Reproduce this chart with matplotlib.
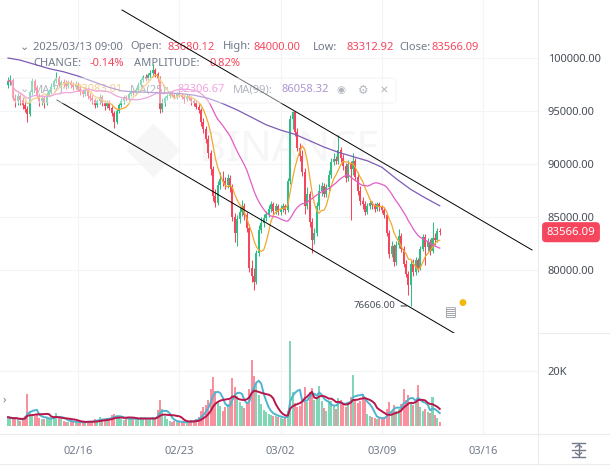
import numpy as np
import pandas as pd
import matplotlib
matplotlib.use('Agg')
import matplotlib.pyplot as plt
from matplotlib.patches import FancyBboxPatch
from matplotlib.lines import Line2D
from matplotlib import transforms

plt.rcParams['font.family'] = ['Noto Sans', 'DejaVu Sans']

# BTC/USDT 4h candles, 2025-02-11 04:00 .. 2025-03-13 00:00, prices in thousand USDT
first_open_k = 97.5
closes_k = [
    97.8, 97.9, 96.2, 95.9, 96.4,
    96.0, 95.6, 95.2, 94.7, 96.8, 97.8,
    97.2, 96.4, 95.9, 96.2, 95.8, 96.5,
    96.9, 97.3, 97.8, 98.1, 97.5, 97.7,
    97.6, 97.4, 97.7, 97.5, 97.3, 97.5,
    97.1, 96.8, 96.6, 97.0, 96.4, 96.2,
    96.0, 95.6, 95.9, 96.3, 95.8, 95.5,
    95.8, 95.3, 94.8, 94.0, 95.0, 95.6,
    95.9, 96.3, 96.1, 96.6, 96.9, 96.7,
    97.0, 97.5, 97.9, 98.2, 98.0, 98.4,
    98.6, 98.9, 98.5, 98.0, 95.2, 95.8,
    96.2, 96.4, 96.7, 96.5, 96.3, 96.6,
    96.5, 96.3, 96.1, 96.4, 96.2, 95.9,
    95.8, 95.4, 95.1, 94.0, 93.3, 92.4,
    91.0, 89.5, 87.0, 86.3, 88.0, 88.6,
    88.4, 88.0, 88.7, 87.8, 85.0, 83.5,
    84.8, 85.5, 86.0, 85.2, 84.0, 80.2,
    79.4, 78.9, 81.6, 83.8, 84.4, 84.9,
    85.3, 85.8, 86.2, 85.6, 86.0, 85.5,
    85.8, 86.0, 85.7, 88.4, 94.2, 94.9,
    93.0, 91.5, 90.8, 89.2, 86.0, 87.2,
    84.5, 82.8, 83.5, 86.0, 87.5, 87.9,
    87.2, 87.8, 89.0, 90.2, 90.5, 90.3,
    91.3, 90.6, 89.8, 88.7, 90.0, 89.5,
    90.3, 88.8, 87.5, 86.5, 86.2, 85.5,
    86.0, 86.3, 86.1, 85.8, 86.2, 85.9,
    85.7, 85.2, 83.5, 81.5, 82.3, 80.8,
    82.4, 83.2, 82.0, 80.6, 79.6, 78.6,
    80.6, 79.8, 80.9, 80.2, 82.0, 83.1,
    82.2, 82.6, 81.8, 83.0, 82.8, 83.68012,
    83.56609,
]
highs_k = [
    98.2, 98.4, 98.1, 96.6, 96.7,
    96.6, 96.3, 95.9, 95.5, 97.0, 98.1,
    98.0, 97.5, 96.7, 96.5, 96.4, 96.8,
    97.1, 97.6, 98.0, 98.7, 98.3, 97.9,
    98.0, 97.9, 97.9, 97.9, 97.7, 97.8,
    97.7, 97.4, 97.0, 97.3, 97.2, 96.7,
    96.5, 96.2, 96.1, 96.6, 96.5, 96.0,
    96.0, 96.0, 95.5, 95.0, 95.2, 95.8,
    96.2, 96.5, 96.5, 96.8, 97.1, 97.0,
    97.2, 97.7, 98.1, 98.4, 98.5, 98.6,
    98.9, 99.4, 99.1, 98.7, 98.3, 96.2,
    96.4, 96.6, 96.9, 96.9, 96.7, 96.8,
    96.9, 96.7, 96.5, 96.6, 96.6, 96.4,
    96.2, 96.0, 95.7, 95.3, 94.3, 93.6,
    92.7, 91.3, 89.8, 87.6, 88.4, 89.2,
    89.3, 88.8, 89.1, 89.0, 88.1, 85.4,
    85.2, 85.9, 86.6, 86.3, 85.5, 84.3,
    80.9, 80.2, 81.9, 84.2, 85.0, 85.3,
    85.6, 86.1, 86.5, 86.4, 86.3, 86.2,
    86.1, 86.3, 86.2, 88.7, 94.6, 95.0,
    95.0, 93.4, 92.0, 91.3, 89.6, 87.8,
    87.5, 84.9, 84.0, 86.4, 88.1, 88.3,
    88.2, 88.1, 89.4, 90.6, 91.0, 90.8,
    92.7, 91.6, 90.9, 90.1, 90.4, 90.3,
    91.0, 90.6, 89.2, 87.9, 86.9, 86.5,
    86.3, 86.6, 86.5, 86.3, 86.4, 86.4,
    86.1, 85.9, 85.4, 83.8, 82.7, 82.5,
    82.7, 83.9, 83.5, 82.3, 80.9, 79.9,
    80.9, 81.0, 81.2, 81.1, 82.3, 83.4,
    83.4, 83.0, 82.9, 84.5, 83.5, 84.0,
    84.0,
]
lows_k = [
    97.2, 97.5, 96.0, 95.4, 95.6,
    95.6, 95.2, 94.9, 94.0, 94.5, 96.5,
    97.0, 96.2, 95.5, 95.6, 95.3, 95.6,
    96.3, 96.7, 97.1, 97.6, 97.3, 97.3,
    97.3, 97.1, 97.2, 97.2, 97.0, 97.1,
    96.9, 96.5, 96.3, 96.4, 96.1, 95.9,
    95.7, 95.3, 95.4, 95.7, 95.5, 95.1,
    95.3, 95.1, 94.5, 93.4, 93.8, 94.8,
    95.4, 95.7, 95.9, 95.9, 96.4, 96.5,
    96.5, 96.8, 97.3, 97.7, 97.8, 97.9,
    98.1, 98.4, 98.2, 97.7, 94.8, 94.9,
    95.5, 96.0, 96.2, 96.3, 96.1, 96.1,
    96.3, 96.1, 95.8, 95.9, 96.0, 95.6,
    95.5, 95.2, 94.8, 93.6, 92.9, 92.0,
    90.6, 89.0, 86.5, 85.9, 86.1, 87.6,
    87.9, 87.6, 87.7, 87.4, 84.6, 82.6,
    82.3, 84.4, 85.1, 84.7, 83.6, 79.8,
    78.9, 78.1, 78.7, 81.3, 83.5, 84.1,
    84.6, 85.0, 85.5, 85.3, 85.3, 85.2,
    85.2, 85.5, 85.3, 85.5, 88.1, 93.3,
    92.6, 91.2, 90.3, 88.9, 85.3, 85.8,
    84.1, 81.6, 82.5, 83.2, 85.7, 87.0,
    86.9, 86.9, 87.5, 88.7, 89.9, 90.0,
    90.0, 90.2, 89.4, 88.3, 88.4, 84.7,
    89.0, 88.5, 87.1, 86.1, 85.8, 85.2,
    85.3, 85.8, 85.8, 85.5, 85.6, 85.6,
    85.4, 84.9, 83.2, 81.1, 81.2, 80.4,
    80.5, 82.1, 81.7, 80.3, 79.3, 77.6,
    76.606, 79.4, 79.5, 79.8, 80.0, 81.8,
    80.5, 81.8, 81.4, 81.6, 82.4, 82.6,
    83.31292,
]
# Vol(BTC), thousands
vol_k = [
    3.2, 2.8, 2.5, 3.0, 2.2,
    2.0, 2.5, 3.5, 11.7, 5.5, 4.0,
    3.8, 4.2, 3.0, 2.6, 2.4, 3.3,
    2.5, 2.8, 3.5, 4.6, 3.0, 2.4,
    1.8, 1.5, 1.6, 1.9, 1.4, 1.3,
    1.2, 1.4, 1.6, 1.3, 1.9, 1.5,
    1.7, 2.5, 2.0, 3.1, 2.4, 2.2,
    2.8, 3.0, 3.9, 4.4, 3.6, 2.9,
    2.5, 2.2, 2.8, 3.2, 2.6, 2.4,
    2.7, 2.4, 3.3, 3.0, 2.5, 2.2,
    2.8, 3.4, 2.6, 5.8, 9.3, 6.2,
    3.5, 2.4, 2.0, 1.6, 1.8, 1.5,
    1.3, 1.4, 1.2, 1.6, 1.8, 2.2,
    2.0, 2.6, 3.2, 5.4, 6.8, 7.5,
    9.5, 13.4, 17.9, 12.6, 8.8, 7.2,
    5.5, 6.8, 8.0, 9.4, 17.3, 14.2,
    11.0, 8.6, 7.2, 6.4, 8.2, 13.5,
    24.0, 18.0, 15.5, 11.2, 8.0, 6.0,
    5.2, 4.4, 4.0, 3.5, 3.8, 3.2,
    2.8, 2.6, 3.0, 5.5, 30.8, 12.5,
    8.5, 6.8, 7.4, 9.2, 14.0, 8.8,
    12.5, 13.8, 9.5, 10.6, 14.5, 9.0,
    6.4, 5.6, 8.8, 9.0, 7.5, 6.2,
    10.0, 9.4, 7.8, 6.9, 8.4, 10.6,
    18.5, 9.8, 8.2, 9.0, 11.7, 10.5,
    4.5, 3.8, 3.2, 2.9, 2.6, 2.8,
    2.5, 3.1, 6.2, 8.6, 5.4, 7.8,
    5.5, 6.2, 8.0, 13.6, 9.4, 11.1,
    8.8, 7.5, 9.0, 15.0, 7.0, 5.3,
    6.2, 5.2, 4.8, 10.5, 3.9, 3.0,
    1.297,
]
# MA(99), one point per day
ma99_dates = ['2025-02-11 04:00'] + [d.strftime('%Y-%m-%d %H:%M') for d in pd.date_range('2025-02-12', '2025-03-13')]
ma99_k = [100.0, 99.8, 99.4, 99.0, 98.7, 98.3, 97.8, 97.3, 96.9, 96.8, 96.75,
          96.7, 96.65, 96.5, 96.2, 95.7, 95.1, 94.4, 93.7, 93.2, 92.8,
          92.2, 91.6, 91.1, 90.7, 90.3, 89.7, 88.6, 87.6, 86.8, 86.06]

# hand drawn channel (time, price)
upper_line_t = ['2025-02-19 01:00', '2025-03-19 09:00']
upper_line_p = [104530, 81890]
lower_line_t = ['2025-02-14 13:00', '2025-03-15 15:00']
lower_line_p = [96040, 72740]

date_ticks = ['2025-02-16 00:00', '2025-02-23 00:00', '2025-03-02 00:00', '2025-03-09 00:00', '2025-03-16 00:00']
date_labels = ['02/16', '02/23', '03/02', '03/09', '03/16']
price_ticks = [80000, 85000, 90000, 95000, 100000]

GREEN, RED = '#2EBD85', '#F6465D'
GREY, DARK = '#707A8A', '#474D57'
C_MA7, C_MA25, C_MA99 = '#F0A830', '#E35DC6', '#7E5BB5'
C_V5, C_V10 = '#4FB4CF', '#B8174C'

base = pd.Timestamp('2025-02-16')


def days(t):
    return np.asarray((pd.to_datetime(t, format='ISO8601') - base) / pd.Timedelta(days=1))


times = pd.date_range('2025-02-11 04:00', periods=len(closes_k), freq='4h')
x = np.asarray((times - base) / pd.Timedelta(days=1))
closes = np.array(closes_k) * 1000
highs = np.array(highs_k) * 1000
lows = np.array(lows_k) * 1000
opens = np.concatenate([[first_open_k * 1000], closes[:-1]])
vols = np.array(vol_k) * 1000
up = closes >= opens
colors = np.where(up, GREEN, RED)

ma7 = pd.Series(closes).rolling(7, min_periods=1).mean()
ma25 = pd.Series(closes).rolling(25, min_periods=1).mean()
vma5 = pd.Series(vols).rolling(5, min_periods=1).mean()
vma10 = pd.Series(vols).rolling(10, min_periods=1).mean()

W, H = 610, 466
fig = plt.figure(figsize=(W / 100, H / 100), dpi=100)
ax = fig.add_axes([0, 1 - 333 / H, 538 / W, 333 / H])
axv = fig.add_axes([0, 1 - 434 / H, 538 / W, 101 / H], sharex=ax)


def px(xp, yp):
    return xp / W, 1 - yp / H


# ---- price pane
ax.set_xlim(-5.39, 31.79)
ax.set_ylim(74057, 105472)
ax.vlines(x, lows, highs, colors=colors, lw=0.75, zorder=3)
body = np.where(np.abs(closes - opens) < 40, 40, closes - opens)
ax.bar(x, body, bottom=opens, width=0.14, color=colors, lw=0, zorder=3)
ax.plot(x, ma7, color=C_MA7, lw=0.9, zorder=4)
ax.plot(x, ma25, color=C_MA25, lw=0.9, zorder=4)
ax.plot(days(ma99_dates), np.array(ma99_k) * 1000, color=C_MA99, lw=0.9, zorder=4)

ax.plot(days(upper_line_t), upper_line_p, color='black', lw=0.7, zorder=6, clip_on=False)
ax.plot(days(lower_line_t), lower_line_p, color='black', lw=0.7, zorder=6, clip_on=False)

ax.set_yticks(price_ticks)
ax.set_yticklabels([f'{p:.2f}' for p in price_ticks])
ax.yaxis.tick_right()
ax.tick_params(axis='y', length=0, pad=7, labelsize=8, labelcolor=DARK)
ax.tick_params(axis='x', length=0, labelbottom=False)
ax.set_xticks(days(date_ticks))
ax.grid(color='#F3F4F6', lw=0.8, zorder=0)
for s in ['top', 'left', 'right']:
    ax.spines[s].set_visible(False)
ax.spines['bottom'].set_color('#EAECEF')

# watermark
ax.text(0.37, 0.55, 'BINANCE', transform=ax.transAxes, fontsize=30, fontweight='bold',
        color='#F6F6F6', ha='left', va='center', zorder=1)
ax.plot([0.285], [0.55], marker='D', ms=26, color='#F6F6F6', transform=ax.transAxes, zorder=1)

# low marker
i_low = int(np.argmin(lows))
ax.annotate(f'{lows[i_low]:.2f}', xy=(x[i_low] - 0.1, lows[i_low]), xytext=(-10, 0),
            textcoords='offset points', ha='right', va='center', fontsize=7, color=DARK,
            arrowprops=dict(arrowstyle='-', color=DARK, lw=0.8), zorder=5)

# last price tag
tag_tr = transforms.blended_transform_factory(fig.transFigure, ax.transData)
ax.text(571 / W, closes[-1], f'{closes[-1]:.2f}', transform=tag_tr, ha='center', va='center',
        fontsize=8.2, color='white', clip_on=False, zorder=7,
        bbox=dict(boxstyle='round,pad=0.4,rounding_size=0.35', fc=RED, ec='none'))


def put(xp, yp, s, color, size=8, **kw):
    ax.text(*px(xp, yp), s, color=color, fontsize=size, transform=fig.transFigure,
            ha='left', va='center', zorder=2, clip_on=False, **kw)


# header rows
put(20, 47, '⌄', GREY, 8)
put(33, 47, '2025/03/13 09:00', GREY)
put(130, 47, 'Open:', GREY)
put(168, 47, '83680.12', RED)
put(223, 47, 'High:', GREY)
put(253, 47, '84000.00', RED)
put(313, 47, 'Low:', GREY)
put(346, 47, '83312.92', RED)
put(399, 47, 'Close:', GREY)
put(432, 47, '83566.09', RED)
put(33, 64, 'CHANGE:', GREY)
put(90, 64, '-0.14%', RED)
put(134, 64, 'AMPLITUDE:', GREY)
put(210, 64, '0.82%', RED)

fig.patches.append(FancyBboxPatch((12, H - 103), 384, 25, boxstyle='round,pad=0,rounding_size=4',
                                  fc='white', ec='#E6E8EA', lw=0.8, alpha=0.45,
                                  transform=None, zorder=0.5))
put(20, 90, '⌄', GREY, 8)
put(33, 90, 'MA(7):', GREY)
put(75, 90, '83083.01', C_MA7)
put(130, 90, 'MA(25):', GREY)
put(178, 90, '82306.67', C_MA25)
put(233, 90, 'MA(99):', GREY)
put(281, 90, '86058.32', '#6C3FB0')
put(336, 90, '◉', GREY, 7.5)
put(358, 90, '⚙', GREY, 8.5)
put(380, 90, '✕', GREY, 7.5)

# small icon near the low
fig.text(*px(451, 313), '▤', color='#8A8F98', fontsize=9, ha='center', va='center')
fig.text(*px(462, 303), '●', color='#F0B90B', fontsize=6.5, ha='center', va='center')

# ---- volume pane
axv.set_ylim(-2900, 33800)
axv.bar(x, vols, width=0.14, color=colors, alpha=0.6, lw=0, zorder=2)
axv.plot(x, vma5, color=C_V5, lw=1.4, zorder=3)
axv.plot(x, vma10, color=C_V10, lw=1.4, zorder=3)
axv.set_yticks([20000])
axv.set_yticklabels(['20K'])
axv.yaxis.tick_right()
axv.tick_params(axis='y', length=0, pad=7, labelsize=8, labelcolor=DARK)
axv.set_xticks(days(date_ticks))
axv.set_xticklabels(date_labels)
axv.tick_params(axis='x', length=0, pad=9, labelsize=8, labelcolor=GREY)
axv.grid(color='#F3F4F6', lw=0.8, zorder=0)
for s in ['top', 'left', 'right']:
    axv.spines[s].set_visible(False)
axv.spines['bottom'].set_color('#EAECEF')

put(20, 350, '⌄', GREY, 8)
put(33, 350, 'Vol(BTC):', GREY)
put(89, 350, '1.297K', DARK)
put(133, 350, 'Vol(USDT)', GREY)
put(195, 350, '108.561M', DARK)
put(253, 350, '4.747K', C_V5)
put(295, 350, '6.223K', C_V10)
fig.text(*px(4, 400), '›', color=GREY, fontsize=8, ha='center', va='center')

# frame lines
fig.add_artist(Line2D([538 / W, 538 / W], [0, 1], color='#EAECEF', lw=0.8))
fig.add_artist(Line2D([0, 1], [1 - 464 / H] * 2, color='#EAECEF', lw=0.8))
fig.add_artist(Line2D([538 / W, 1], [1 - 333 / H] * 2, color='#EAECEF', lw=0.8))
fig.add_artist(Line2D([538 / W, 1], [1 - 434 / H] * 2, color='#EAECEF', lw=0.8))

# fit-to-screen icon at bottom right, drawn as strokes
for yy in (443, 450, 457):
    fig.add_artist(Line2D([572 / W, 585 / W], [1 - yy / H] * 2, color=GREY, lw=1.0))
fig.add_artist(Line2D([578.5 / W] * 2, [1 - 444 / H, 1 - 456 / H], color=GREY, lw=1.0))
fig.add_artist(Line2D([575.5 / W, 578.5 / W, 581.5 / W], [1 - 447 / H, 1 - 445 / H, 1 - 447 / H],
                      color=GREY, lw=1.0))
fig.add_artist(Line2D([575.5 / W, 578.5 / W, 581.5 / W], [1 - 453 / H, 1 - 455 / H, 1 - 453 / H],
                      color=GREY, lw=1.0))

fig.savefig('out.png', dpi=100)
